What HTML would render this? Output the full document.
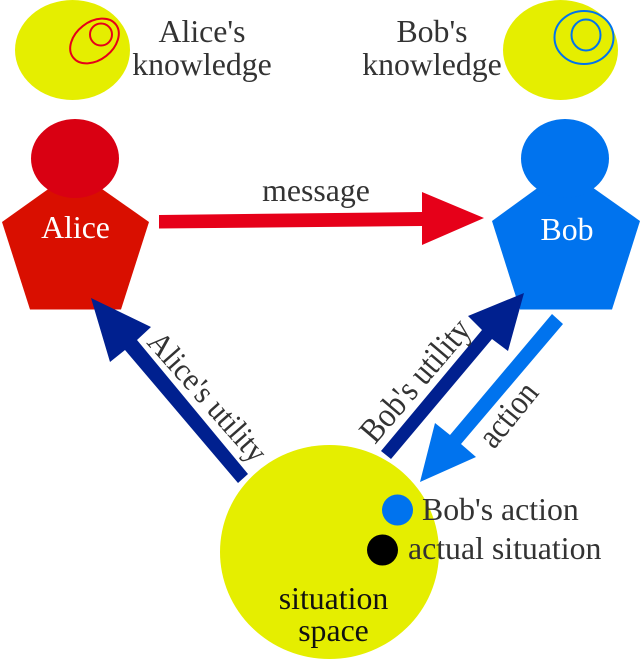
<!DOCTYPE html>
<html>
<head>
<meta charset="utf-8">
<style>
html,body{margin:0;padding:0;background:#fff;width:640px;height:660px;overflow:hidden}
svg{display:block}
text{font-family:"Liberation Serif",serif;font-size:31.800px;fill:#333}
</style>
</head>
<body>
<svg width="640" height="660" viewBox="0 0 640 660" xmlns="http://www.w3.org/2000/svg">
<rect width="640" height="660" fill="#fff"/>
<!-- knowledge bubbles -->
<ellipse cx="72.500" cy="50" rx="57.500" ry="50" fill="#e5ee00"/>
<ellipse cx="94.500" cy="41" rx="27" ry="19" transform="rotate(-38 94.500 41)" fill="none" stroke="#e60019" stroke-width="2"/>
<circle cx="101" cy="34.500" r="11" fill="none" stroke="#e60019" stroke-width="2"/>
<ellipse cx="560.500" cy="50" rx="57.500" ry="50" fill="#e5ee00"/>
<ellipse cx="584" cy="37.500" rx="29.500" ry="26.500" fill="none" stroke="#0073ee" stroke-width="2"/>
<ellipse cx="586" cy="35" rx="14.500" ry="15.500" fill="none" stroke="#0073ee" stroke-width="2"/>
<text x="202" y="42" text-anchor="middle">Alice's</text>
<text x="202" y="75" text-anchor="middle">knowledge</text>
<text x="432" y="42" text-anchor="middle">Bob's</text>
<text x="432" y="75" text-anchor="middle">knowledge</text>
<!-- Alice -->
<polygon points="2,222 75,170 149,222 121,309.500 30,309.500" fill="#d90f00"/>
<ellipse cx="75" cy="158.500" rx="44" ry="39.500" fill="#d90012"/>
<text x="75.500" y="238" text-anchor="middle" style="fill:#fff">Alice</text>
<!-- Bob -->
<polygon points="492,221 565,168 640,221 612,309.500 520,309.500" fill="#0073ee"/>
<ellipse cx="565" cy="158.500" rx="44" ry="39.500" fill="#0073ee"/>
<text x="567" y="240" text-anchor="middle" style="fill:#fff">Bob</text>
<!-- message arrow -->
<polygon points="159,215 422,212 422,192 484,218 422,245 422,226 159,228.500" fill="#e60019"/>
<text x="316" y="201" text-anchor="middle">message</text>
<!-- situation space -->
<ellipse cx="329.500" cy="552" rx="109.500" ry="107" fill="#e5ee00"/>
<circle cx="397.500" cy="510" r="15.500" fill="#0073ee"/>
<circle cx="382.500" cy="550" r="15.500" fill="#000"/>
<text x="422" y="520">Bob's action</text>
<text x="408" y="559">actual situation</text>
<text x="333.500" y="609" text-anchor="middle" style="fill:#111">situation</text>
<text x="333.500" y="641" text-anchor="middle" style="fill:#111">space</text>
<!-- Alice's utility -->
<polygon points="91,298 151,327 137,340 248,474 238,483 125,350 110,362" fill="#00208f"/>
<text transform="translate(146,343) rotate(48.500) scale(0.950,1)">Alice's utility</text>
<!-- Bob's utility -->
<polygon points="524,293 508,351 492,339 391,459 381,451 482,330 468,316" fill="#00208f"/>
<text transform="translate(375,445) rotate(-49.500) scale(0.970,1.100)">Bob's utility</text>
<!-- action -->
<polygon points="552,314 563,324 461,444 476,457 420,482 435,423 450,435" fill="#0073ee"/>
<text transform="translate(494,450) rotate(-51) scale(0.940,1.100)">action</text>
</svg>
</body>
</html>
